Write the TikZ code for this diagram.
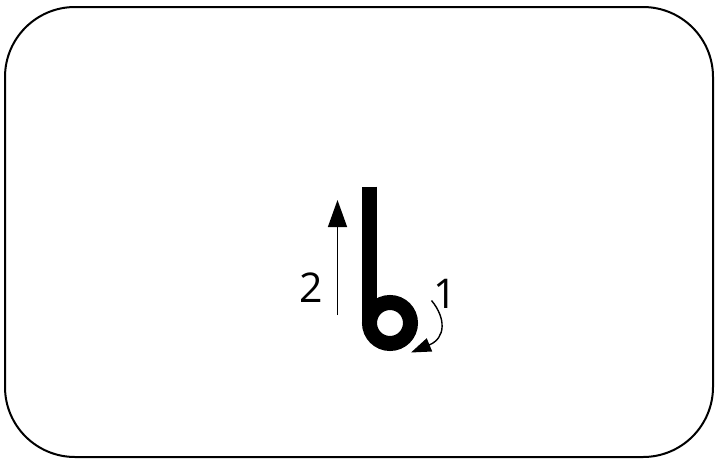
\documentclass[tikz,border=0pt]{standalone}
\usepackage{fontspec}
\setmainfont{Open Sans}
\usetikzlibrary{arrows.meta}
\begin{document}
\begin{tikzpicture}[x=1pt,y=-1pt,
  frame/.style={draw=black,line width=2pt,rounded corners=70pt},
  stroke/.style={draw=black,line width=15pt},
  num/.style={font=\fontsize{41}{41}\selectfont,inner sep=0pt},
  thin/.style={draw=black,line width=1.4pt}]
\useasboundingbox (0,0) rectangle (717,463);
\draw[frame] (5,7) rectangle (713,457);
% letter b
\draw[stroke] (369.5,186.5) -- (369.5,323);
\draw[stroke] (390,323) circle (20.5);
% arrow 2
\coordinate (a2s) at (337.5,315);
\coordinate (a2e) at (337.5,200);
\draw[thin,-{Triangle[length=27pt,width=19pt]}] (a2s) -- (a2e);
\node[num] (n2) at (311.5,288) {2};
% arrow 1
\coordinate (a1s) at (431.5,300.5);
\coordinate (a1e) at (411,352.5);
\draw[thin,-{Triangle[length=20pt,width=14pt]}] (a1s) .. controls (446,318) and (446,338) .. (a1e);
\node[num] (n1) at (445.5,293.5) {1};
\end{tikzpicture}
\end{document}
